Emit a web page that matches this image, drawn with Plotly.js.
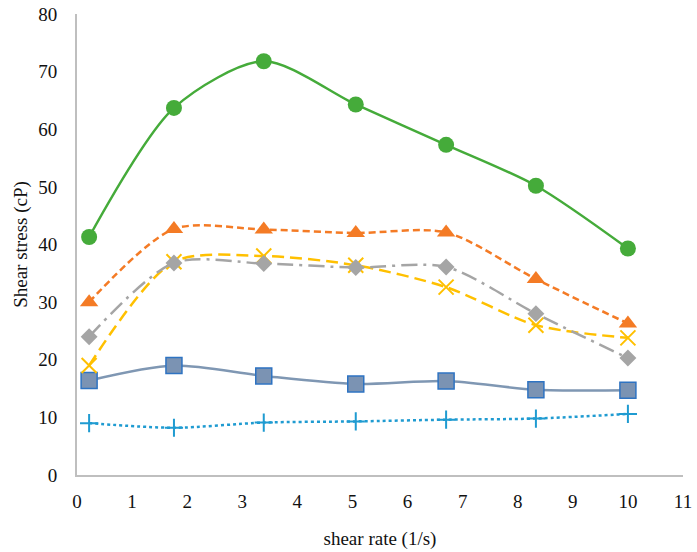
<!DOCTYPE html>
<html>
<head>
<meta charset="utf-8">
<script src="https://cdn.plot.ly/plotly-3.0.1.min.js"></script>
<style>body{margin:0;background:#fff}#chart{width:697px;height:552px}</style>
</head>
<body>
<div id="chart"></div>
<script>
// shear rate (1/s)
var shearRate = [0.22, 1.76, 3.39, 5.06, 6.7, 8.33, 10.0];
// shear stress (cP) per sample
var greenVals  = [41.3, 63.7, 71.8, 64.3, 57.3, 50.2, 39.3];
var orangeVals = [30.0, 42.7, 42.6, 42.0, 42.1, 34.0, 26.3];
var grayVals   = [24.0, 36.8, 36.7, 36.0, 36.1, 28.0, 20.3];
var yellowVals = [19.0, 37.0, 38.0, 36.4, 32.6, 26.0, 23.8];
var blueVals   = [16.4, 19.0, 17.2, 15.8, 16.3, 14.8, 14.7];
var cyanVals   = [9.0, 8.2, 9.1, 9.3, 9.6, 9.8, 10.6];

function mk(y, col, dash, sym, size, extra) {
  var t = {
    x: shearRate, y: y, type: 'scatter', mode: 'lines+markers',
    line: {color: col, width: 2.5, dash: dash, shape: 'spline', smoothing: 0.8},
    marker: {symbol: sym, size: size, color: col}
  };
  if (extra) Object.assign(t.marker, extra);
  return t;
}

var data = [
  mk(cyanVals, '#1f9bd1', 'dot', 'cross-thin', 13, {line: {color: '#1f9bd1', width: 2}}),
  mk(blueVals, '#7f97b3', 'solid', 'square', 16, {color: '#7b93b3', line: {color: '#2e73c2', width: 1.5}}),
  mk(yellowVals, '#ffc000', '12px,6px', 'x-thin', 15, {line: {color: '#ffc000', width: 2}}),
  mk(grayVals, '#a5a5a5', '16px,6px,3px,6px', 'diamond', 13),
  mk(orangeVals, '#f47b25', '7px,4px', 'triangle-up', 16),
  mk(greenVals, '#45ab3a', 'solid', 'circle', 16)
];

var serif = 'Liberation Serif';

var layout = {
  width: 697, height: 552,
  margin: {l: 77, r: 14, t: 14, b: 77},
  paper_bgcolor: '#ffffff', plot_bgcolor: '#ffffff',
  showlegend: false,
  font: {family: serif, size: 19, color: '#111'},
  xaxis: {
    range: [0, 11], dtick: 1, showgrid: false, zeroline: false,
    showline: true, linecolor: '#bfbfbf', linewidth: 2, ticks: '',
    ticklabelstandoff: 8,
    tickfont: {family: serif, size: 19},
    title: {text: 'shear rate (1/s)', font: {family: serif, size: 19}, standoff: 21}
  },
  yaxis: {
    range: [0, 80], dtick: 10, showgrid: false, zeroline: false,
    showline: true, linecolor: '#bfbfbf', linewidth: 2, ticks: '',
    ticklabelstandoff: 14,
    tickfont: {family: serif, size: 19},
    title: {text: 'Shear stress (cP)', font: {family: serif, size: 19}, standoff: 6}
  }
};

Plotly.newPlot('chart', data, layout, {displayModeBar: false});
</script>
</body>
</html>
